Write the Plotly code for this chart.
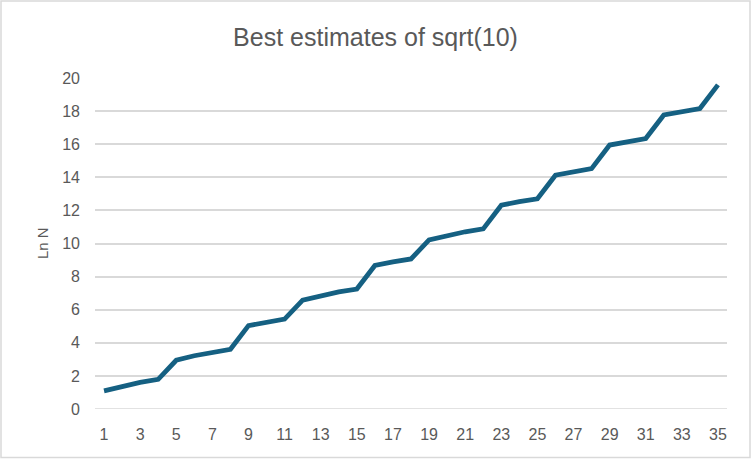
import plotly.graph_objects as go

# 最佳逼近 sqrt(10) 的序号 与 ln(N)
x_index = list(range(1, 36))
ln_n = [1.099, 1.386, 1.609, 1.792,
        2.944, 3.219, 3.434, 3.611,
        5.037, 5.252, 5.429,
        6.581, 6.855, 7.071, 7.248,
        8.674, 8.889, 9.066,
        10.217, 10.492, 10.708, 10.885,
        12.311, 12.526, 12.703,
        14.129, 14.344, 14.522,
        15.948, 16.163, 16.340,
        17.766, 17.981, 18.158,
        19.584]

x_ticks = list(range(1, 36, 2))
y_ticks = list(range(0, 21, 2))

TEXT_GREY = "#595959"
GRID_GREY = "#d9d9d9"
W, H = 751, 459
L, R, T, B = 95, 24, 78, 50
PW, PH = W - L - R, H - T - B

fig = go.Figure(go.Scatter(
    x=x_index, y=ln_n, mode="lines",
    line=dict(color="#156082", width=4.8),
    hoverinfo="x+y",
))

fig.update_layout(
    width=W, height=H,
    margin=dict(l=L, r=R, t=T, b=B),
    paper_bgcolor="white", plot_bgcolor="white",
    showlegend=False,
    title=dict(text="Best estimates of sqrt(10)", x=0.5, xanchor="center",
               y=1 - 37 / H, yanchor="middle",
               font=dict(family="Liberation Sans, Arial", size=25, color=TEXT_GREY)),
    font=dict(family="Liberation Sans, Arial", size=16, color=TEXT_GREY),
    xaxis=dict(range=[0.5, 35.5], tickvals=x_ticks, showgrid=False, zeroline=False,
               showline=False, ticks="", ticklabelstandoff=14,
               tickfont=dict(size=16, color=TEXT_GREY)),
    yaxis=dict(range=[0, 20], tickvals=y_ticks, showgrid=True, gridcolor=GRID_GREY, gridwidth=1.5,
               zeroline=False, showline=False, ticks="", ticklabelstandoff=14,
               tickfont=dict(size=16, color=TEXT_GREY)),
    annotations=[
        dict(text="Ln N", xref="paper", yref="paper", x=(42 - L) / PW, y=(H - B - 243) / PH,
             xanchor="center", yanchor="middle", textangle=-90, showarrow=False,
             font=dict(size=15, color=TEXT_GREY)),
    ],
    shapes=[
        dict(type="line", xref="paper", yref="y", x0=0, x1=1, y0=0, y1=0,
             line=dict(color=GRID_GREY, width=1.5), layer="below"),
        dict(type="rect", xref="paper", yref="paper",
             x0=-(L - 1) / PW, x1=1 + (R - 1) / PW, y0=-(B - 1.5) / PH, y1=1 + (T - 1) / PH,
             line=dict(color=GRID_GREY, width=1.5)),
    ],
)

fig.write_html("out.html", config={"displayModeBar": False},
               post_script="document.body.style.margin='0';")
